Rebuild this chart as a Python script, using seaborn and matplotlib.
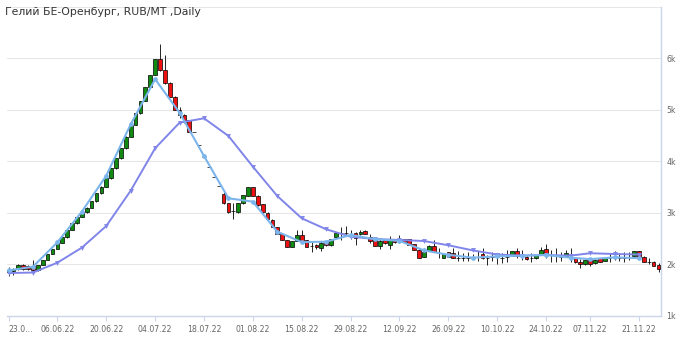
import numpy as np
import pandas as pd
import matplotlib
matplotlib.use("Agg")
import matplotlib.pyplot as plt
import seaborn as sns

# ---------------- data ----------------
title = "Гелий БЕ-Оренбург, RUB/MT ,Daily"
start_date = "2022-05-23"
end_date = "2022-11-25"
holidays = ["2022-11-04"]

opens = [1860, 1870, 1900, 1990, 1960, 1970, 1880, 1990, 2085, 2200,
         2300, 2410, 2524, 2666, 2796, 2925, 3010, 3100, 3223, 3379,
         3507, 3670, 3864, 4058, 4253, 4479, 4705, 4932, 5171, 5437,
         5676, 5981, 5773, 5520, 5249, 4997, 4900, 4802, 4569, 4317,
         4084, 3890, 3695, 3520, 3365, 3190, 3040, 3015, 3190, 3330,
         3501, 3326, 3171, 2996, 2860, 2724, 2588, 2472, 2342, 2459,
         2570, 2472, 2355, 2375, 2310, 2430, 2375, 2523, 2615, 2615,
         2570, 2602, 2583, 2655, 2525, 2472, 2363, 2472, 2375, 2492,
         2470, 2492, 2492, 2388, 2278, 2149, 2259, 2363, 2214, 2129,
         2233, 2214, 2128, 2128, 2130, 2140, 2149, 2194, 2128, 2149,
         2148, 2130, 2148, 2168, 2258, 2180, 2148, 2120, 2116, 2194,
         2298, 2180, 2168, 2148, 2168, 2148, 2116, 2052, 2000, 2084,
         2020, 2116, 2065, 2130, 2148, 2130, 2130, 2148, 2168, 2258,
         2148, 2039, 2052, 1987]
highs = [1950, 1930, 2000, 2010, 1990, 2080, 1995, 2090, 2205, 2305,
         2415, 2530, 2670, 2800, 2930, 3015, 3105, 3228, 3385, 3512,
         3675, 3870, 4063, 4258, 4485, 4710, 4938, 5176, 5442, 5681,
         5987, 6278, 6065, 5540, 5260, 5050, 4920, 4810, 4569, 4317,
         4084, 3890, 3695, 3520, 3420, 3200, 3190, 3200, 3350, 3510,
         3510, 3340, 3180, 3010, 2870, 2730, 2600, 2480, 2460, 2666,
         2666, 2480, 2440, 2390, 2460, 2440, 2500, 2620, 2725, 2745,
         2660, 2620, 2660, 2670, 2590, 2480, 2510, 2490, 2540, 2500,
         2570, 2500, 2500, 2400, 2290, 2260, 2370, 2480, 2310, 2200,
         2240, 2310, 2250, 2220, 2240, 2200, 2250, 2310, 2190, 2240,
         2210, 2210, 2270, 2265, 2310, 2280, 2160, 2210, 2190, 2340,
         2390, 2280, 2310, 2240, 2280, 2310, 2130, 2110, 2090, 2110,
         2100, 2130, 2120, 2210, 2250, 2210, 2230, 2230, 2265, 2265,
         2160, 2120, 2060, 2020]
lows = [1780, 1790, 1890, 1880, 1880, 1870, 1870, 1980, 2080, 2195,
        2295, 2405, 2520, 2660, 2790, 2920, 3005, 3095, 3218, 3374,
        3502, 3665, 3859, 4053, 4248, 4474, 4700, 4927, 5166, 5432,
        5671, 5760, 5510, 5240, 4990, 4850, 4740, 4560, 4569, 4317,
        4084, 3890, 3695, 3520, 3170, 3000, 2880, 3000, 3180, 3320,
        3320, 3140, 3000, 2870, 2715, 2580, 2465, 2330, 2330, 2450,
        2450, 2330, 2240, 2300, 2260, 2360, 2360, 2510, 2472, 2560,
        2490, 2375, 2570, 2580, 2420, 2350, 2290, 2400, 2290, 2420,
        2420, 2420, 2370, 2270, 2120, 2140, 2250, 2240, 2130, 2120,
        2140, 2120, 2070, 2070, 2060, 2100, 2060, 2110, 1990, 2060,
        2010, 2030, 2040, 2160, 2120, 2080, 2090, 2050, 2110, 2190,
        2120, 2050, 2050, 2060, 2160, 2050, 2030, 1930, 1990, 1960,
        2010, 2040, 2060, 2050, 2090, 2060, 2040, 2080, 2160, 2140,
        2040, 2000, 1960, 1860]
closes = [1890, 1910, 1990, 1900, 1900, 1880, 1985, 2083, 2200, 2297,
          2408, 2524, 2666, 2796, 2925, 3010, 3100, 3223, 3379, 3507,
          3670, 3864, 4058, 4253, 4479, 4705, 4932, 5171, 5437, 5676,
          5981, 5773, 5520, 5249, 4997, 4900, 4763, 4569, 4569, 4317,
          4084, 3890, 3695, 3520, 3190, 3015, 3040, 3190, 3346, 3501,
          3326, 3152, 3015, 2880, 2724, 2588, 2472, 2342, 2459, 2570,
          2459, 2342, 2355, 2330, 2407, 2380, 2485, 2614, 2615, 2615,
          2570, 2505, 2635, 2590, 2460, 2363, 2453, 2408, 2472, 2427,
          2470, 2427, 2375, 2278, 2129, 2246, 2363, 2246, 2214, 2194,
          2149, 2129, 2128, 2128, 2130, 2140, 2149, 2116, 2128, 2149,
          2148, 2130, 2148, 2258, 2168, 2180, 2103, 2120, 2181, 2278,
          2214, 2180, 2168, 2148, 2214, 2148, 2039, 2000, 2084, 2000,
          2084, 2052, 2116, 2130, 2148, 2130, 2130, 2148, 2258, 2148,
          2052, 2039, 1975, 1910]

# weekly moving-average style lines (one value per Monday)
fast_line = [1880, 1953, 2427, 3022, 3721, 4719, 5593, 4944, 4103, 3282,
             3216, 2633, 2430, 2439, 2569, 2488, 2455, 2270, 2185, 2128,
             2155, 2168, 2181, 2128, 2100, 2135, 2120]
slow_line = [1830, 1840, 2031, 2323, 2744, 3430, 4253, 4750, 4835, 4492,
             3896, 3326, 2893, 2680, 2536, 2491, 2472, 2452, 2370, 2270,
             2190, 2168, 2181, 2168, 2215, 2200, 2190]

tick_labels = ["23.0...", "06.06.22", "20.06.22", "04.07.22", "18.07.22",
               "01.08.22", "15.08.22", "29.08.22", "12.09.22", "26.09.22",
               "10.10.22", "24.10.22", "07.11.22", "21.11.22"]
y_ticks = [1000, 2000, 3000, 4000, 5000, 6000, 7000]
y_labels = ["1k", "2k", "3k", "4k", "5k", "6k", ""]

# ---------------- build ----------------
dates = pd.bdate_range(start_date, end_date)
dates = dates[~dates.isin(pd.to_datetime(holidays))]
pos = np.arange(len(dates))
df = pd.DataFrame({"date": dates, "pos": pos, "open": opens, "high": highs,
                   "low": lows, "close": closes})

mondays = df[df["date"].dt.weekday == 0].reset_index(drop=True)
lines = pd.DataFrame({"pos": mondays["pos"], "fast": fast_line, "slow": slow_line})
tick_pos = mondays["pos"].values[::2]

sns.set_style("white")
plt.rcParams["font.family"] = ["DejaVu Sans"]

W, H = 680, 341
fig = plt.figure(figsize=(W / 100, H / 100), dpi=100)
ax_bottom = 25.2
ax_top = 6.8
ax = fig.add_axes([7 / W, ax_bottom / H, 654 / W, (H - ax_bottom - ax_top) / H])

# gridlines
for yv in y_ticks:
    ax.axhline(yv, color="#e6e6e6", lw=0.75, zorder=0, clip_on=False)

# wicks
ax.vlines(df["pos"], df["low"], df["high"], color="black", lw=0.6, zorder=2)
# bodies
bottom = np.minimum(df["open"], df["close"])
height = np.abs(df["close"] - df["open"])
colors = np.where(df["close"] > df["open"], "#118a11",
                  np.where(df["close"] < df["open"], "#ee1111", "black"))
ax.bar(df["pos"], height, bottom=bottom, width=0.76, color=colors,
       edgecolor="black", linewidth=0.5, zorder=3)

# lines
sns.lineplot(data=lines, x="pos", y="slow", ax=ax, color="#8085e9", lw=1.4,
             marker="v", markersize=3.5, markeredgewidth=0, zorder=4)
sns.lineplot(data=lines, x="pos", y="fast", ax=ax, color="#7cb5ec", lw=1.5,
             marker="o", markersize=3.4, markeredgewidth=0, zorder=5)

ax.set_xlim(-0.31, len(dates) - 1 + 0.51)
ax.set_ylim(1000, 7000)
ax.set_xlabel("")
ax.set_ylabel("")

ax.set_xticks(tick_pos)
ax.set_xticklabels(tick_labels, fontsize=5.6, color="#666666")
ax.get_xticklabels()[0].set_horizontalalignment("left")
ax.tick_params(axis="x", length=3.8, width=0.8, color="#ccd6eb", pad=2.5,
               direction="out", bottom=True)

ax.yaxis.tick_right()
ax.set_yticks(y_ticks)
ax.set_yticklabels(y_labels, fontsize=5.6, color="#666666")
ax.tick_params(axis="y", length=0, pad=4)

for s in ["left", "top"]:
    ax.spines[s].set_visible(False)
ax.spines["bottom"].set_color("#ccd6eb")
ax.spines["bottom"].set_linewidth(1.0)
ax.spines["right"].set_color("#ccd6eb")
ax.spines["right"].set_linewidth(1.0)
ax.grid(False)

fig.text(5 / W, 1 - 12 / H, title, fontsize=7.8, color="#333333",
         ha="left", va="center")

fig.savefig("out.png", dpi=100)
